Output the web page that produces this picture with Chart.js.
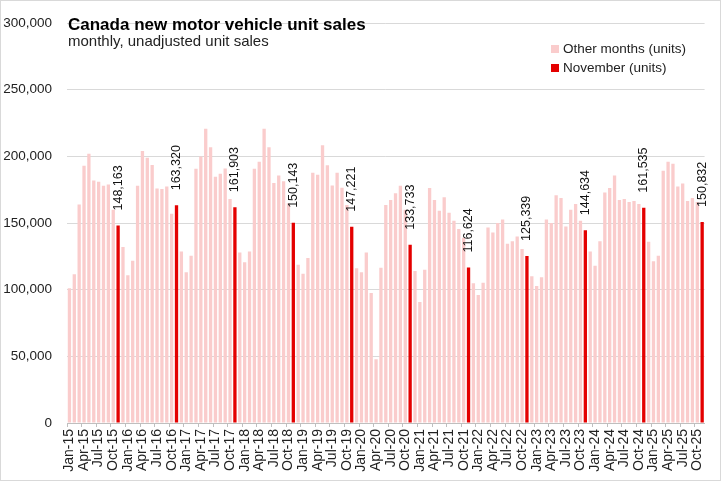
<!DOCTYPE html>
<html>
<head>
<meta charset="utf-8">
<script src="https://cdn.jsdelivr.net/npm/chart.js@4.4.1/dist/chart.umd.min.js"></script>
<style>
  html, body { margin: 0; padding: 0; background: #fff; }
  #wrap { width: 721px; height: 481px; position: relative; }
</style>
</head>
<body>
<div id="wrap"><canvas id="salesChart" width="721" height="481"></canvas></div>
<script>
// month names and years used to build the category labels (Jan-15 ... Nov-25)
const monthNames = ["Jan", "Feb", "Mar", "Apr", "May", "Jun", "Jul", "Aug", "Sep", "Oct", "Nov", "Dec"];
const years = ["15", "16", "17", "18", "19", "20", "21", "22", "23", "24", "25"];

// monthly unadjusted unit sales, one row per year
const sales2015 = [101000, 111500, 164000, 193000, 202000, 182000, 181000, 178000, 179000, 160000, 148163, 132000];
const sales2016 = [110800, 121800, 178000, 204000, 199000, 193600, 176000, 175500, 177500, 157000, 163320, 128600];
const sales2017 = [113000, 125400, 190700, 200000, 220800, 206800, 184800, 187000, 191000, 168000, 161903, 128000];
const sales2018 = [120500, 128600, 190700, 196000, 220800, 206800, 180000, 185600, 181400, 164800, 150143, 118800];
const sales2019 = [112000, 123700, 187800, 186300, 208300, 193400, 178200, 187800, 176500, 163600, 147221, 116000];
const sales2020 = [113000, 127900, 97600, 47800, 116400, 163600, 167200, 172400, 178000, 160000, 133733, 114000];
const sales2021 = [90800, 115000, 176300, 167200, 159200, 169400, 157700, 151800, 145500, 139000, 116624, 104900];
const sales2022 = [96000, 105300, 146600, 143000, 150000, 152600, 134500, 136400, 139900, 130600, 125339, 110000];
const sales2023 = [102700, 109300, 152600, 150000, 170900, 168700, 147400, 159900, 164300, 151800, 144634, 128600];
const sales2024 = [118000, 136400, 173000, 176300, 185600, 167200, 168000, 165800, 166500, 164300, 161535, 136000];
const sales2025 = [121300, 125400, 189200, 196000, 194400, 177500, 179700, 166500, 168700, 165800, 150832];

const yTicks = [0, 50000, 100000, 150000, 200000, 250000, 300000];

const otherColor = "#FACCCC";
const novColor = "#E40000";

const sales = [].concat(sales2015, sales2016, sales2017, sales2018, sales2019, sales2020,
  sales2021, sales2022, sales2023, sales2024, sales2025);

const labels = [];
years.forEach(function (y) {
  monthNames.forEach(function (m) { labels.push(m + "-" + y); });
});
labels.length = sales.length;

const isNov = function (i) { return labels[i].indexOf("Nov") === 0; };
const otherData = sales.map(function (v, i) { return isNov(i) ? null : v; });
const novData = sales.map(function (v, i) { return isNov(i) ? v : null; });

const fmt = function (v) { return v.toLocaleString("en-US"); };

// title, subtitle, legend, value labels and frame
const decorations = {
  id: "decorations",
  afterDatasetsDraw(chart) {
    const ctx = chart.ctx;
    ctx.save();
    // value labels over the November bars
    const meta = chart.getDatasetMeta(1);
    ctx.font = "12.5px 'Liberation Sans', Arial, sans-serif";
    ctx.fillStyle = "#111";
    ctx.textAlign = "left";
    ctx.textBaseline = "middle";
    meta.data.forEach(function (bar, i) {
      const v = novData[i];
      if (v == null) return;
      ctx.save();
      ctx.translate(bar.x, bar.y - 15);
      ctx.rotate(-Math.PI / 2);
      ctx.fillText(fmt(v), 0, 0);
      ctx.restore();
    });
    ctx.restore();
  },
  afterDraw(chart) {
    const ctx = chart.ctx;
    ctx.save();
    ctx.textAlign = "left";
    ctx.textBaseline = "alphabetic";
    ctx.fillStyle = "#000";
    ctx.font = "bold 17px 'Liberation Sans', Arial, sans-serif";
    ctx.fillText("Canada new motor vehicle unit sales", 68, 30);
    ctx.fillStyle = "#222";
    ctx.font = "15px 'Liberation Sans', Arial, sans-serif";
    ctx.fillText("monthly, unadjusted unit sales", 68, 46);

    // legend
    const items = [
      { text: chart.data.datasets[0].label, color: otherColor, y: 49 },
      { text: chart.data.datasets[1].label, color: novColor, y: 68 }
    ];
    ctx.font = "13.5px 'Liberation Sans', Arial, sans-serif";
    ctx.textBaseline = "middle";
    items.forEach(function (it) {
      ctx.fillStyle = it.color;
      ctx.fillRect(551, it.y - 4, 8, 8);
      ctx.fillStyle = "#222";
      ctx.fillText(it.text, 563, it.y);
    });

    // outer frame
    ctx.strokeStyle = "#D9D9D9";
    ctx.lineWidth = 1;
    ctx.strokeRect(0.5, 0.5, chart.width - 1, chart.height - 1);
    ctx.restore();
  }
};

document.addEventListener("DOMContentLoaded", function () {
  const ctx = document.getElementById("salesChart").getContext("2d");
  new Chart(ctx, {
    type: "bar",
    data: {
      labels: labels,
      datasets: [
        {
          label: "Other months (units)",
          data: otherData,
          backgroundColor: otherColor,
        },
        {
          label: "November (units)",
          data: novData,
          backgroundColor: novColor,
        },
      ],
    },
    options: {
      responsive: false,
      animation: false,
      devicePixelRatio: 1,
      datasets: {
        bar: {
          grouped: false,
          barPercentage: 0.68,
          categoryPercentage: 1.0,
        },
      },
      layout: {
        padding: { top: 12, right: 12, left: 0, bottom: 0 },
      },
      plugins: {
        legend: { display: false },
        title: { display: false },
        tooltip: { enabled: false },
      },
      scales: {
        x: {
          offset: true,
          afterFit: function (scale) { scale.height = 58; },
          grid: {
            display: true,
            drawOnChartArea: false,
            drawTicks: true,
            tickLength: 4,
            color: function (c) { return c.index % 3 === 0 ? "#BFBFBF" : "rgba(0,0,0,0)"; },
          },
          border: { display: true, color: "#BFBFBF" },
          ticks: {
            autoSkip: false,
            maxRotation: 90,
            minRotation: 90,
            padding: 2,
            color: "#222",
            font: { family: "'Liberation Sans', Arial, sans-serif", size: 14 },
            callback: function (val, i) { return i % 3 === 0 ? labels[i] : ""; },
          },
        },
        y: {
          min: 0,
          max: 300000,
          afterFit: function (scale) { scale.width = 67; },
          afterBuildTicks: function (scale) {
            scale.ticks = yTicks.map(function (v) { return { value: v }; });
          },
          grid: {
            color: "#D9D9D9",
            drawTicks: false,
          },
          border: { display: false },
          ticks: {
            padding: 15,
            color: "#222",
            font: { family: "'Liberation Sans', Arial, sans-serif", size: 13.5 },
            callback: function (v) { return fmt(v); },
          },
        },
      },
    },
    plugins: [decorations],
  });
});
</script>
</body>
</html>
